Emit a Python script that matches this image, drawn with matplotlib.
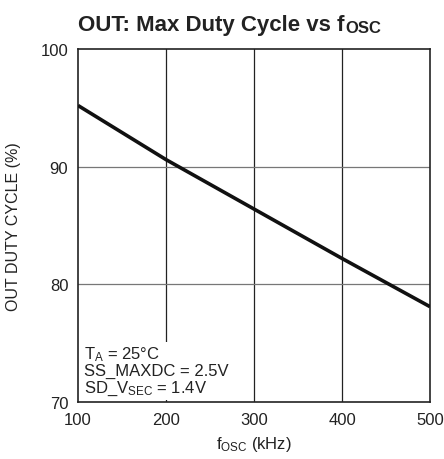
import numpy as np
import matplotlib
matplotlib.use("Agg")
import matplotlib.pyplot as plt

plt.rcParams['font.family'] = ['Liberation Sans', 'DejaVu Sans']
plt.rcParams['mathtext.fontset'] = 'custom'
plt.rcParams['mathtext.rm'] = 'Liberation Sans'
plt.rcParams['mathtext.it'] = 'Liberation Sans'
plt.rcParams['mathtext.bf'] = 'Liberation Sans:bold'

# Data
f_osc = [100, 200, 300, 400, 500]
duty = [95.2, 90.6, 86.4, 82.2, 78.1]

x_ticks = [100, 200, 300, 400, 500]
y_ticks = [70, 80, 90, 100]

fig = plt.figure(figsize=(4.44, 4.60), dpi=100)
ax = fig.add_axes([0.1757, 0.1239, 0.7928, 0.7674])

ax.plot(f_osc, duty, color='#111111', lw=2.6, solid_capstyle='butt', zorder=3)

ax.set_xlim(100, 500)
ax.set_ylim(70, 100)
ax.set_xticks(x_ticks)
ax.set_yticks(y_ticks)
ax.tick_params(length=0, labelsize=12, colors='#222222')
ax.tick_params(axis='x', pad=7)
ax.tick_params(axis='y', pad=7)

for v in x_ticks[1:-1]:
    ax.axvline(v, color='#222222', lw=0.9, zorder=1)
for v in y_ticks[1:-1]:
    ax.axhline(v, color='#777777', lw=0.9, zorder=1)

for s in ax.spines.values():
    s.set_color('#222222')
    s.set_linewidth(1.2)

ax.set_xlabel(r'f$_{\mathrm{OSC}}$ (kHz)', fontsize=12, labelpad=5, color='#222222')
ax.set_ylabel('OUT DUTY CYCLE (%)', fontsize=11.5, labelpad=14, color='#222222')

# title in two pieces so the subscript stays bold
title = fig.text(0.176, 0.932, 'OUT: Max Duty Cycle vs f', ha='left',
                 fontsize=16, fontweight='bold', color='#222222')
fig.canvas.draw()
ax.annotate('OSC', xy=(1, 0), xycoords=title, xytext=(0.3, 0.5),
            textcoords='offset points', ha='left', va='bottom',
            fontsize=12, fontweight='bold', color='#222222')

ax.text(0.018, 0.015,
        'T$_{\\mathrm{A}}$ = 25°C\nSS_MAXDC = 2.5V\nSD_V$_{\\mathrm{SEC}}$ = 1.4V',
        transform=ax.transAxes, fontsize=12, color='#222222', va='bottom', ha='left',
        linespacing=1.0, zorder=4,
        bbox=dict(facecolor='white', edgecolor='none', pad=2))

fig.savefig('out.png', dpi=100)
